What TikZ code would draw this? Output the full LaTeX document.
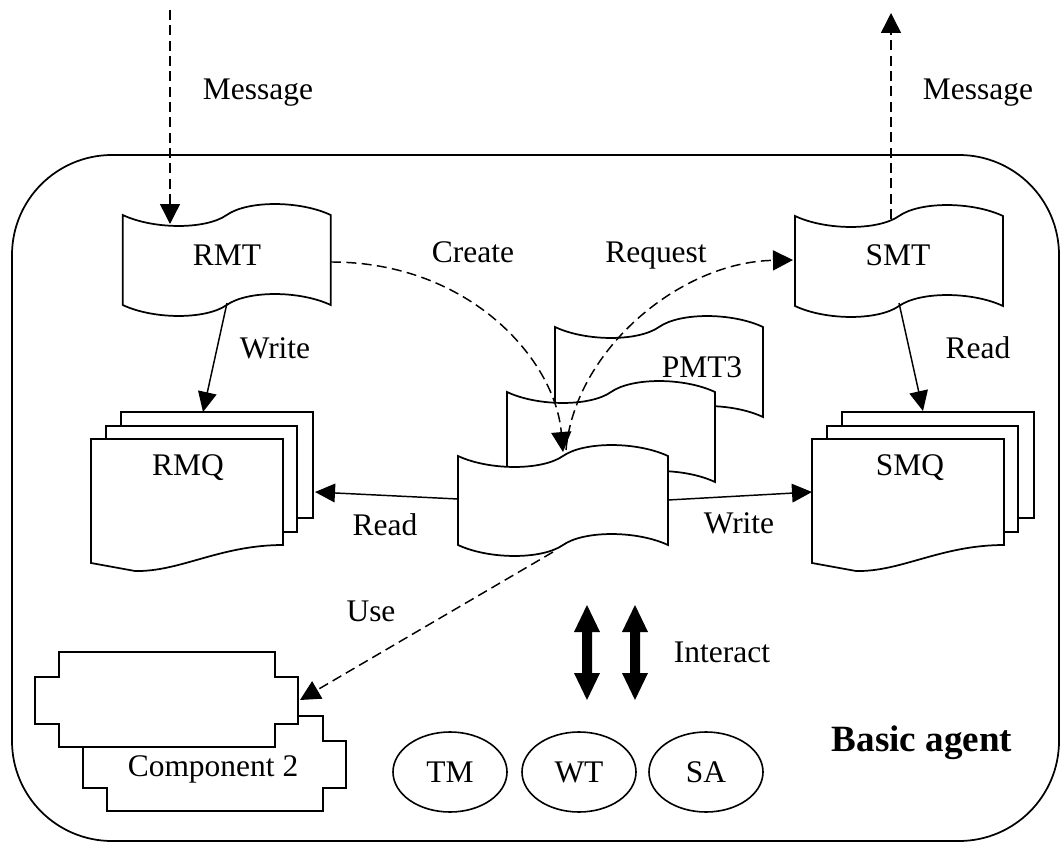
\documentclass[tikz,border=0pt]{standalone}
\usepackage{fontspec}
\setmainfont{Liberation Serif}
\usetikzlibrary{arrows.meta,shapes.geometric}
\newcommand\tapeshape[5]{% L,T,w,h,A
 \path[shp] (#1,#2) .. controls ({#1+0.15*#3},{#2+1.33*#5}) and ({#1+0.4*#3},{#2+1.33*#5}) .. ({#1+0.5*#3},#2)
   .. controls ({#1+0.6*#3},{#2-1.33*#5}) and ({#1+0.85*#3},{#2-1.33*#5}) .. ({#1+#3},#2)
   -- ({#1+#3},{#2+#4})
   .. controls ({#1+0.85*#3},{#2+#4-1.33*#5}) and ({#1+0.6*#3},{#2+#4-1.33*#5}) .. ({#1+0.5*#3},{#2+#4})
   .. controls ({#1+0.4*#3},{#2+#4+1.33*#5}) and ({#1+0.15*#3},{#2+#4+1.33*#5}) .. (#1,{#2+#4}) -- cycle;}
\newcommand\compshape[2]{% top-left of main rectangle
 \path[shp] (#1,#2) -- ({#1+216},#2) -- ({#1+216},{#2+25}) -- ({#1+239},{#2+25}) -- ({#1+239},{#2+72})
   -- ({#1+216},{#2+72}) -- ({#1+216},{#2+95}) -- (#1,{#2+95}) -- (#1,{#2+72}) -- ({#1-24},{#2+72})
   -- ({#1-24},{#2+25}) -- (#1,{#2+25}) -- cycle;}
\newcommand\docstack[2]{% top-left of front sheet
 \path[shp] ({#1+30},{#2-27}) rectangle ({#1+222},{#2+79});
 \path[shp] ({#1+15},{#2-13}) rectangle ({#1+206},{#2+93});
 \path[shp] (#1,#2) -- ({#1+192},#2) -- ({#1+192},{#2+106})
   .. controls ({#1+129},{#2+106}) and ({#1+89},{#2+133}) .. ({#1+44},{#2+132}) -- (#1,{#2+124}) -- cycle;}
\newcommand\dblarrow[1]{% x position
 \path[fill=black] (#1,605) -- ({#1+13},632) -- ({#1+5},632) -- ({#1+5},673) -- ({#1+13},673) -- (#1,700)
   -- ({#1-13},673) -- ({#1-5},673) -- ({#1-5},632) -- ({#1-13},632) -- cycle;}
\begin{document}
\begin{tikzpicture}[x=0.75pt,y=-0.75pt,
  shp/.style={draw=black,line width=1.3pt,fill=white,line join=miter},
  lbl/.style={font=\fontsize{23.6}{28}\selectfont,inner sep=0pt},
  boldlbl/.style={font=\fontsize{27.8}{32}\selectfont\bfseries,inner sep=0pt},
  ell/.style={draw=black,line width=1.2pt,ellipse,minimum width=85.5pt,minimum height=60pt,inner sep=0pt,font=\fontsize{23.6}{28}\selectfont},
  dsh/.style={draw=black,line width=1.1pt,dash pattern=on 7.5pt off 4pt},
  dasharrow/.style={dsh,-{Triangle[length=15pt,width=15pt]}},
  solidarrow/.style={draw=black,line width=1.1pt,-{Triangle[length=15pt,width=14pt]}},
]
\useasboundingbox (0,0) rectangle (1061,842);
\path[fill=white] (0,0) rectangle (1061,842);
% agent boundary
\draw[line width=1.3pt,rounded corners=75pt] (12,155) rectangle (1059,841);

% shapes
\tapeshape{122.7}{215}{208}{90}{11}
\tapeshape{795}{216}{208}{90}{11}
\docstack{91}{439}
\docstack{812}{439}
\tapeshape{555}{327}{208}{90}{11}
\tapeshape{507}{392}{208}{90}{11}
\tapeshape{458}{456}{210}{89}{11}
\compshape{107}{716}
\compshape{59}{652}

% texts in shapes
\node[lbl] (rmt) at (227,255) {RMT};
\node[lbl] (smt) at (898,255) {SMT};
\node[lbl] (pmt3) at (702,367) {PMT3};
\node[lbl] (rmq) at (188,468) {RMQ};
\node[lbl] (smq) at (910,468) {SMQ};
\node[lbl] (comp2) at (213,769) {Component 2};
\node[ell] (tm) at (450,772) {TM};
\node[ell] (wt) at (579,772) {WT};
\node[ell] (sa) at (706,772) {SA};

% connector end points
\coordinate (msgin-s) at (170,10);
\coordinate (rmt-n) at (170,224);
\coordinate (smt-n) at (891,219);
\coordinate (msgout-e) at (891,13);
\coordinate (rmt-e) at (331,262);
\coordinate (pmt-n) at (563,452);
\coordinate (pmt-n2) at (566,450);
\coordinate (smt-w) at (793,260);
\coordinate (rmt-s) at (227,303);
\coordinate (rmq-n) at (203,412);
\coordinate (smt-s) at (899,303);
\coordinate (smq-n) at (923,411);
\coordinate (pmt-w) at (458,499);
\coordinate (rmq-e) at (315,492);
\coordinate (pmt-e) at (668,500);
\coordinate (smq-w) at (812,492);
\coordinate (pmt-s) at (553,552);
\coordinate (comp1-e) at (300,700);

% connectors
\draw[dasharrow] (msgin-s) -- (rmt-n);
\draw[dasharrow] (smt-n) -- (msgout-e);
\draw[dasharrow] (rmt-e) .. controls (470,262) and (555,360) .. (pmt-n);
\draw[dasharrow] (pmt-n2) .. controls (575,350) and (680,262) .. (smt-w);
\draw[solidarrow] (rmt-s) -- (rmq-n);
\draw[solidarrow] (smt-s) -- (smq-n);
\draw[solidarrow] (pmt-w) -- (rmq-e);
\draw[solidarrow] (pmt-e) -- (smq-w);
\draw[dasharrow] (pmt-s) -- (comp1-e);

% interact arrows
\dblarrow{587}
\dblarrow{635}

% labels
\node[lbl] (lmsg1) at (258,93) {Message};
\node[lbl] (lmsg2) at (978,93) {Message};
\node[lbl,anchor=base] (lcreate) at (473,262) {Create};
\node[lbl,anchor=base] (lrequest) at (656,262) {Request};
\node[lbl] (lwrite1) at (275,348) {Write};
\node[lbl] (lread1) at (978,348) {Read};
\node[lbl] (lread2) at (385,525) {Read};
\node[lbl] (lwrite2) at (739,523) {Write};
\node[lbl] (luse) at (371,611) {Use};
\node[lbl] (linteract) at (722,652) {Interact};
\node[boldlbl] (lagent) at (922,743) {Basic agent};
\end{tikzpicture}
\end{document}
